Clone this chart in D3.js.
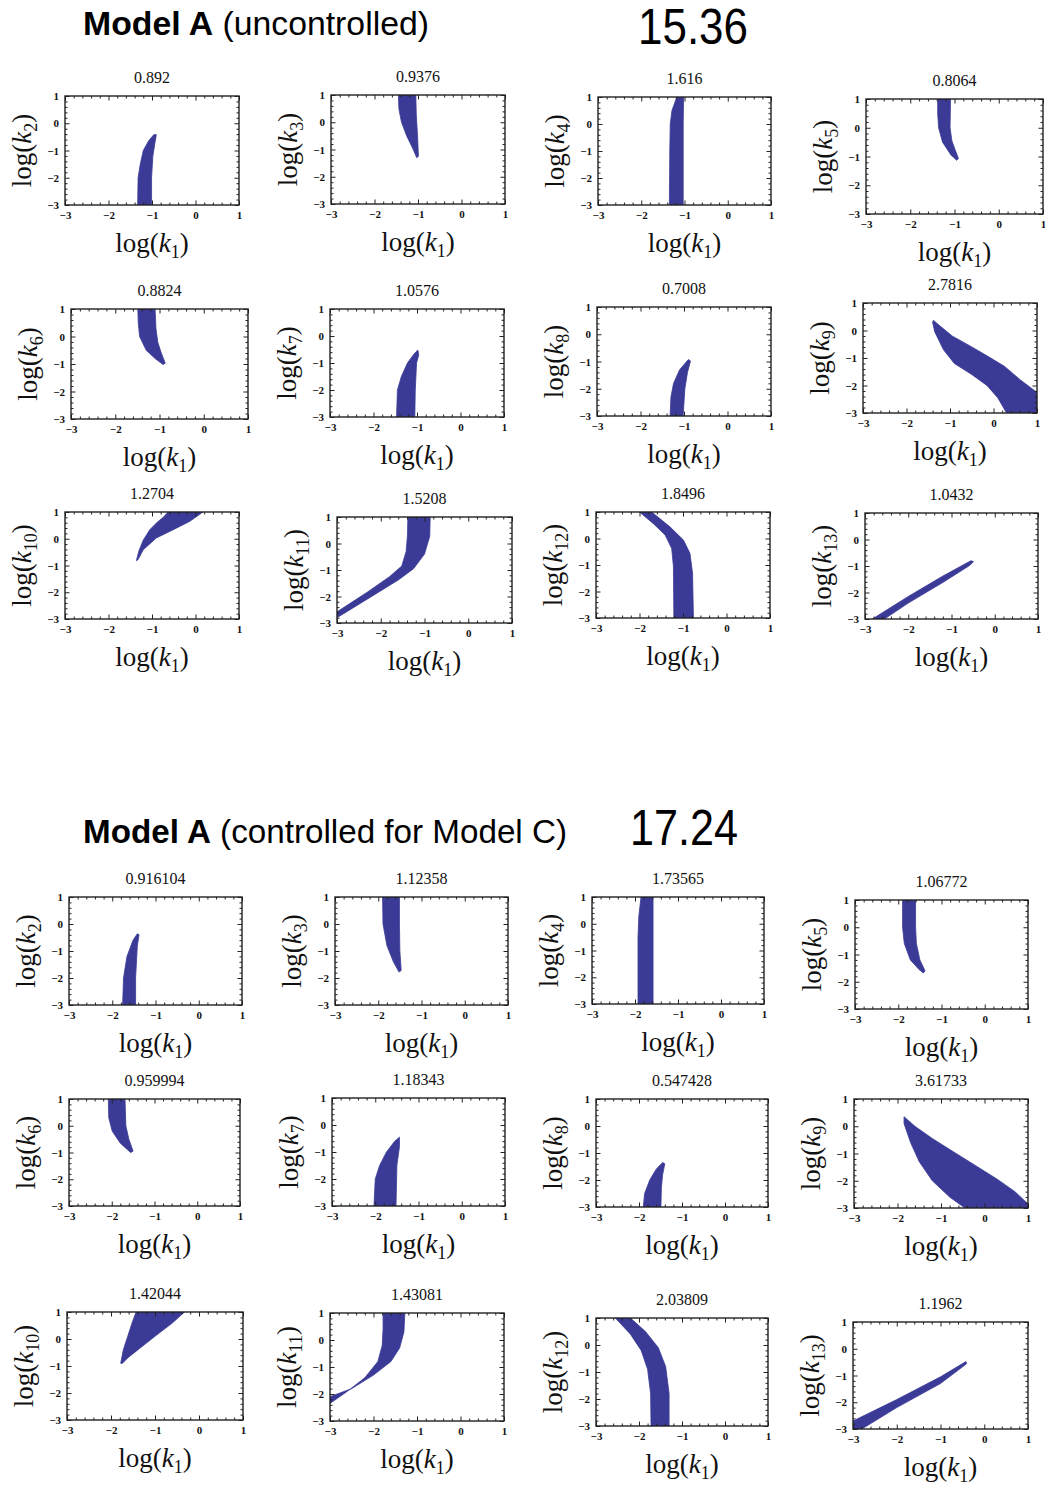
<!DOCTYPE html>
<html><head><meta charset="utf-8">
<script src="https://cdn.jsdelivr.net/npm/d3@7"></script>
<style>body{margin:0;background:#fff}svg{display:block}</style>
</head><body>
<script>
// ---------- data ----------
const tickValues = [-3, -2, -1, 0, 1];
const yIndices = [2, 3, 4, 5, 6, 7, 8, 9, 10, 11, 12, 13];
const uncontrolledTotal = "15.36";
const controlledTotal = "17.24";
const uncontrolledValues = [0.892, 0.9376, 1.616, 0.8064, 0.8824, 1.0576, 0.7008, 2.7816, 1.2704, 1.5208, 1.8496, 1.0432];
const controlledValues = [0.916104, 1.12358, 1.73565, 1.06772, 0.959994, 1.18343, 0.547428, 3.61733, 1.42044, 1.43081, 2.03809, 1.1962];

// feasible regions (log k1, log kn), uncontrolled
const uncontrolledRegions = [
  [[-1.33,-3],[-1.32,-2],[-1.27,-1.5],[-1.2,-1],[-1.08,-0.65],[-0.96,-0.42],[-0.9,-0.42],[-0.93,-0.7],[-0.98,-1.2],[-1.01,-2],[-1.01,-3]],
  [[-1.45,1],[-1.44,0.5],[-1.38,0],[-1.26,-0.5],[-1.11,-1],[-1.03,-1.3],[-0.99,-1.25],[-1.01,-0.5],[-1.04,0.3],[-1.05,1]],
  [[-1.35,-3],[-1.34,-1],[-1.33,0],[-1.29,0.5],[-1.2,0.9],[-1.17,1],[-1.02,1],[-1.03,0],[-1.03,-3]],
  [[-1.38,1],[-1.38,0.5],[-1.36,0],[-1.27,-0.5],[-1.08,-0.95],[-0.95,-1.13],[-0.91,-1.07],[-0.99,-0.75],[-1.06,-0.45],[-1.1,0],[-1.09,1]],
  [[-1.49,1],[-1.48,0.5],[-1.45,0],[-1.3,-0.5],[-1.1,-0.8],[-0.92,-1.02],[-0.87,-0.97],[-0.96,-0.6],[-1.04,-0.2],[-1.08,0.3],[-1.1,1]],
  [[-1.47,-3],[-1.45,-2],[-1.36,-1.5],[-1.22,-1],[-1.06,-0.65],[-0.98,-0.52],[-0.96,-0.7],[-1.01,-1],[-1.04,-2],[-1.05,-3]],
  [[-1.32,-3],[-1.3,-2.3],[-1.24,-1.8],[-1.1,-1.3],[-0.9,-0.93],[-0.85,-0.98],[-0.92,-1.4],[-0.98,-2],[-1.02,-3]],
  [[-1.38,0.37],[-1.31,0.27],[-0.95,-0.2],[-0.55,-0.55],[-0.15,-0.92],[0.25,-1.3],[0.62,-1.8],[1.0,-2.25],[1,-3],[0.3,-3],[0.1,-2.45],[-0.15,-2.0],[-0.5,-1.6],[-0.9,-1.2],[-1.15,-0.7],[-1.35,-0.05],[-1.4,0.3]],
  [[-1.36,-0.82],[-1.3,-0.45],[-1.2,-0.05],[-1.05,0.34],[-0.88,0.62],[-0.74,0.8],[-0.63,1],[0.17,1],[-0.13,0.65],[-0.51,0.34],[-0.9,0.03],[-1.2,-0.41],[-1.32,-0.78]],
  [[-3,-2.58],[-2.31,-1.84],[-1.8,-1.25],[-1.52,-0.85],[-1.42,-0.3],[-1.39,0.3],[-1.38,1],[-0.87,1],[-0.88,0.27],[-1.0,-0.4],[-1.25,-0.95],[-1.6,-1.38],[-2.31,-2.1],[-3,-2.8]],
  [[-2.0,1],[-1.68,0.56],[-1.41,0.13],[-1.26,-0.38],[-1.22,-1.06],[-1.21,-3],[-0.76,-3],[-0.78,-1.31],[-0.84,-0.56],[-0.99,-0.06],[-1.3,0.44],[-1.72,1]],
  [[-2.83,-3],[-2.0,-2.15],[-1.2,-1.38],[-0.55,-0.8],[-0.49,-0.84],[-0.6,-1.0],[-1.2,-1.62],[-2.0,-2.4],[-2.55,-3]]
];

// feasible regions, controlled for Model C
const controlledRegions = [
  [[-1.76,-3],[-1.74,-2],[-1.66,-1.2],[-1.52,-0.6],[-1.42,-0.36],[-1.38,-0.4],[-1.42,-0.8],[-1.46,-2],[-1.46,-3]],
  [[-1.9,1],[-1.89,0],[-1.8,-0.8],[-1.65,-1.4],[-1.52,-1.78],[-1.47,-1.72],[-1.5,-1],[-1.51,0],[-1.51,1]],
  [[-1.93,-3],[-1.93,-0.5],[-1.91,0.3],[-1.86,1],[-1.58,1],[-1.58,-3]],
  [[-1.9,1],[-1.9,0],[-1.86,-0.6],[-1.72,-1.2],[-1.52,-1.55],[-1.42,-1.68],[-1.38,-1.6],[-1.5,-1.2],[-1.58,-0.6],[-1.6,0],[-1.6,1]],
  [[-2.08,1],[-2.07,0.3],[-1.99,-0.2],[-1.8,-0.65],[-1.56,-1.0],[-1.5,-0.95],[-1.6,-0.5],[-1.67,0],[-1.69,1]],
  [[-2.03,-3],[-2.0,-2],[-1.9,-1.5],[-1.74,-1],[-1.55,-0.6],[-1.44,-0.45],[-1.44,-0.8],[-1.5,-1.5],[-1.52,-3]],
  [[-1.9,-3],[-1.87,-2.5],[-1.75,-2],[-1.6,-1.6],[-1.45,-1.35],[-1.4,-1.4],[-1.45,-1.8],[-1.48,-2.3],[-1.49,-3]],
  [[-1.85,0.35],[-1.6,0.0],[-1.2,-0.45],[-0.7,-0.95],[-0.2,-1.45],[0.3,-1.95],[0.7,-2.4],[1.0,-2.85],[1,-3],[-0.45,-3],[-0.8,-2.6],[-1.2,-2.0],[-1.5,-1.3],[-1.7,-0.6],[-1.85,0.1]],
  [[-1.78,-0.9],[-1.72,-0.4],[-1.62,0.1],[-1.52,0.6],[-1.43,1],[-0.33,1],[-0.6,0.6],[-1.0,0.1],[-1.35,-0.35],[-1.62,-0.7],[-1.74,-0.9]],
  [[-3,-2.35],[-2.6,-1.9],[-2.2,-1.4],[-1.9,-0.8],[-1.8,-0.2],[-1.78,0.4],[-1.78,1],[-1.28,1],[-1.3,0.3],[-1.4,-0.3],[-1.6,-0.8],[-2.0,-1.3],[-2.5,-1.8],[-3,-2.1]],
  [[-2.55,1],[-2.2,0.4],[-1.95,-0.2],[-1.8,-0.9],[-1.73,-1.8],[-1.72,-3],[-1.3,-3],[-1.3,-1.8],[-1.38,-0.8],[-1.55,-0.1],[-1.85,0.5],[-2.2,1]],
  [[-3,-2.7],[-2,-1.9],[-1,-1.05],[-0.42,-0.48],[-0.4,-0.55],[-0.45,-0.62],[-1,-1.3],[-2,-2.2],[-2.8,-3],[-3,-3]]
];

// ---------- layout (pixel boxes: left, top, right, bottom) ----------
const uncontrolledBoxes = [
  [65,96,239,205],[331,95,505,204],[598,97,771,205],[866,99,1043,214],
  [71,309,248,419],[330,309,504,417],[597,307,771,416],[863,303,1037,413],
  [65,512,239,619],[337,517,512,623],[596,512,770,618],[865,513,1038,619]
];
const controlledBoxes = [
  [69,897,242,1005],[335,897,508,1005],[592,897,764,1004],[855,900,1028,1009],
  [69,1099,240,1206],[332,1098,505,1206],[596,1099,768,1207],[854,1099,1028,1208],
  [67,1312,243,1420],[330,1313,504,1421],[596,1318,768,1426],[853,1322,1028,1429]
];

const FILL = "#3b3b97";
const SERIF = "'Liberation Serif','Times New Roman',serif";
const SANS = "'Liberation Sans',Arial,sans-serif";

const svg = d3.select("body").append("svg").attr("width", 1045).attr("height", 1487);
svg.append("rect").attr("width", 1045).attr("height", 1487).attr("fill", "#fff");

const fmt = d => d < 0 ? "\u2212" + Math.abs(d) : String(d);
const minorValues = d3.range(0, 21).map(i => -3 + i * 0.2).filter(v => Math.abs(v - Math.round(v)) > 1e-6);

let clipId = 0;
function logLabel(sel, sub) {
  sel.append("tspan").text("log(");
  sel.append("tspan").attr("font-style", "italic").text("k");
  sel.append("tspan").attr("font-size", 18).attr("dy", 6).text(sub);
  sel.append("tspan").attr("dy", -6).text(")");
}

function drawPanel(box, region, value, idx) {
  const [x0, y0, x1, y1] = box;
  const x = d3.scaleLinear().domain([-3, 1]).range([x0, x1]);
  const y = d3.scaleLinear().domain([-3, 1]).range([y1, y0]);
  const g = svg.append("g");
  const id = "clip" + (clipId++);
  g.append("clipPath").attr("id", id).append("rect")
    .attr("x", x0).attr("y", y0).attr("width", x1 - x0).attr("height", y1 - y0);
  const line = d3.line().x(d => x(d[0])).y(d => y(d[1])).curve(d3.curveLinearClosed);
  g.append("path").attr("d", line(region)).attr("fill", FILL).attr("stroke", FILL)
    .attr("stroke-width", 0.8).attr("clip-path", `url(#${id})`);

  function axis(gen, tr, vals, size, labels) {
    const a = g.append("g").attr("transform", tr)
      .call(gen.tickValues(vals).tickSize(size).tickPadding(labels ? 6 : 0).tickFormat(labels ? fmt : () => ""));
    a.select(".domain").remove();
    a.selectAll("line").attr("stroke", "#222").attr("stroke-width", 1);
    a.attr("font-family", SERIF).attr("font-size", 11).attr("font-weight", "bold");
    a.selectAll("text").attr("fill", "#111");
    return a;
  }
  axis(d3.axisBottom(x), `translate(0,${y1})`, tickValues, -4.5, true);
  axis(d3.axisBottom(x), `translate(0,${y1})`, minorValues, -2.5, false);
  axis(d3.axisTop(x), `translate(0,${y0})`, tickValues, -4.5, false);
  axis(d3.axisTop(x), `translate(0,${y0})`, minorValues, -2.5, false);
  axis(d3.axisLeft(y), `translate(${x0},0)`, tickValues, -4.5, true);
  axis(d3.axisLeft(y), `translate(${x0},0)`, minorValues, -2.5, false);
  axis(d3.axisRight(y), `translate(${x1},0)`, tickValues, -4.5, false);
  axis(d3.axisRight(y), `translate(${x1},0)`, minorValues, -2.5, false);

  g.append("rect").attr("x", x0).attr("y", y0).attr("width", x1 - x0).attr("height", y1 - y0)
    .attr("fill", "none").attr("stroke", "#222").attr("stroke-width", 1.4);

  const cx = (x0 + x1) / 2, cy = (y0 + y1) / 2;
  g.append("text").attr("x", cx).attr("y", y0 - 13).attr("text-anchor", "middle")
    .attr("font-family", SERIF).attr("font-size", 16).attr("fill", "#111").text(String(value));

  const yl = g.append("text").attr("transform", `translate(${x0 - 34},${cy}) rotate(-90)`)
    .attr("text-anchor", "middle").attr("font-family", SERIF).attr("font-size", 27).attr("fill", "#111");
  logLabel(yl, String(yIndices[idx]));

  const xl = g.append("text").attr("x", cx).attr("y", y1 + 47).attr("text-anchor", "middle")
    .attr("font-family", SERIF).attr("font-size", 27).attr("fill", "#111");
  logLabel(xl, "1");
}

function header(yBase, desc, total, totalX, totalY, descLen, totalLen) {
  const t = svg.append("text").attr("x", 83).attr("y", yBase).attr("font-family", SANS)
    .attr("font-size", 34).attr("fill", "#000")
    .attr("textLength", descLen).attr("lengthAdjust", "spacingAndGlyphs");
  t.append("tspan").attr("font-weight", "bold").text("Model A");
  t.append("tspan").text(" " + desc);
  svg.append("text").attr("x", totalX).attr("y", totalY).attr("font-family", SANS)
    .attr("font-size", 50).attr("fill", "#000")
    .attr("textLength", totalLen).attr("lengthAdjust", "spacingAndGlyphs").text(total);
}

header(35, "(uncontrolled)", uncontrolledTotal, 638, 44, 346, 110);
header(843, "(controlled for Model C)", controlledTotal, 630, 845, 484, 108);

uncontrolledBoxes.forEach((b, i) => drawPanel(b, uncontrolledRegions[i], uncontrolledValues[i], i));
controlledBoxes.forEach((b, i) => drawPanel(b, controlledRegions[i], controlledValues[i], i));
</script>
</body></html>
